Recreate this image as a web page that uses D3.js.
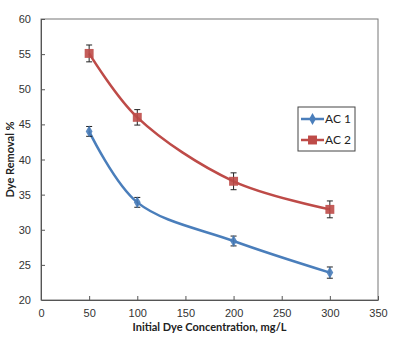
<!DOCTYPE html>
<html lang="en">
  <head>
    <meta charset="UTF-8" />
    <title>Dye Removal vs Initial Dye Concentration</title>
    <script src="https://d3js.org/d3.v7.min.js"></script>
    <style>
      html,
      body {
        margin: 0;
        padding: 0;
        background-color: #ffffff;
        font-family: Lato, "Open Sans", sans-serif;
      }
      .tick text {
        font-size: 11px;
        fill: #333;
      }
      .axis-title {
        font-size: 11px;
        font-weight: bold;
        fill: #222;
      }
    </style>
  </head>
  <body>
    <svg id="chart"></svg>
    <script>
      // Initial dye concentration (mg/L)
      const concentrations = [50, 100, 200, 300];
      // Removal percentages and error bar half-widths
      const ac1Values = [44, 33.9, 28.4, 23.9];
      const ac1Errors = [0.7, 0.7, 0.7, 0.8];
      const ac2Values = [55.1, 46, 36.9, 32.9];
      const ac2Errors = [1.2, 1.1, 1.2, 1.2];
      const seriesNames = ["AC 1", "AC 2"];
      const xTicks = [0, 50, 100, 150, 200, 250, 300, 350];
      const yTicks = [20, 25, 30, 35, 40, 45, 50, 55, 60];

      const width = 400;
      const height = 340;
      const margin = { top: 19, right: 22, bottom: 40, left: 41 };
      const innerW = width - margin.left - margin.right;
      const innerH = height - margin.top - margin.bottom;

      const colors = { "AC 1": "#4a7ebb", "AC 2": "#be4b48" };

      const svg = d3
        .select("#chart")
        .attr("width", width)
        .attr("height", height);

      const g = svg
        .append("g")
        .attr("transform", `translate(${margin.left},${margin.top})`);

      const x = d3.scaleLinear().domain([0, 350]).range([0, innerW]);
      const y = d3.scaleLinear().domain([20, 60]).range([innerH, 0]);

      // plot area frame
      g.append("rect")
        .attr("width", innerW)
        .attr("height", innerH)
        .attr("fill", "none")
        .attr("stroke", "#777")
        .attr("stroke-width", 1);

      // axes with inward ticks
      const xAxis = g
        .append("g")
        .attr("transform", `translate(0,${innerH})`)
        .call(
          d3.axisBottom(x).tickValues(xTicks).tickSizeInner(-4).tickSizeOuter(0).tickPadding(9)
        );
      const yAxis = g
        .append("g")
        .call(
          d3.axisLeft(y).tickValues(yTicks).tickSizeInner(-4).tickSizeOuter(0).tickPadding(10)
        );
      [xAxis, yAxis].forEach((a) => {
        a.select(".domain").attr("stroke", "#555");
        a.selectAll(".tick line").attr("stroke", "#555");
        a.selectAll(".tick text").attr("font-family", null);
      });
      xAxis.select(".tick:first-of-type line").remove();
      yAxis.select(".tick:first-of-type line").remove();

      // axis titles
      svg
        .append("text")
        .attr("class", "axis-title")
        .attr("x", margin.left + innerW / 2)
        .attr("y", 331)
        .attr("text-anchor", "middle")
        .text("Initial Dye Concentration, mg/L");
      svg
        .append("text")
        .attr("class", "axis-title")
        .attr("transform", `translate(14,${margin.top + innerH / 2}) rotate(-90)`)
        .attr("text-anchor", "middle")
        .text("Dye Removal %");

      const series = [
        { name: "AC 1", values: ac1Values, errors: ac1Errors, symbol: d3.symbolDiamond, size: 40 },
        { name: "AC 2", values: ac2Values, errors: ac2Errors, symbol: d3.symbolSquare, size: 80 },
      ];

      const line = d3
        .line()
        .x((d) => x(d[0]))
        .y((d) => y(d[1]))
        .curve(d3.curveCatmullRom.alpha(0.5));

      series.forEach((s) => {
        const pts = concentrations.map((c, i) => [c, s.values[i], s.errors[i]]);
        g.append("path")
          .datum(pts)
          .attr("fill", "none")
          .attr("stroke", colors[s.name])
          .attr("stroke-width", 2.5)
          .attr("d", line);

        // error bars
        const eb = g
          .append("g")
          .selectAll("g")
          .data(pts)
          .enter()
          .append("g")
          .attr("stroke", "#222")
          .attr("stroke-width", 1);
        eb.append("line")
          .attr("x1", (d) => x(d[0]))
          .attr("x2", (d) => x(d[0]))
          .attr("y1", (d) => y(d[1] - d[2]))
          .attr("y2", (d) => y(d[1] + d[2]));
        [-1, 1].forEach((sgn) => {
          eb.append("line")
            .attr("x1", (d) => x(d[0]) - 3)
            .attr("x2", (d) => x(d[0]) + 3)
            .attr("y1", (d) => y(d[1] + sgn * d[2]))
            .attr("y2", (d) => y(d[1] + sgn * d[2]));
        });

        g.append("g")
          .selectAll("path")
          .data(pts)
          .enter()
          .append("path")
          .attr("transform", (d) => `translate(${x(d[0])},${y(d[1])})`)
          .attr("d", d3.symbol().type(s.symbol).size(s.size))
          .attr("fill", colors[s.name])
          .attr("opacity", 0.9);
      });

      // legend
      const legend = svg.append("g").attr("transform", "translate(298,107)");
      legend
        .append("rect")
        .attr("width", 57)
        .attr("height", 44)
        .attr("fill", "#fff")
        .attr("stroke", "#444");
      series.forEach((s, i) => {
        const ly = 12 + i * 21;
        legend
          .append("line")
          .attr("x1", 3)
          .attr("x2", 26)
          .attr("y1", ly)
          .attr("y2", ly)
          .attr("stroke", colors[s.name])
          .attr("stroke-width", 2.5);
        legend
          .append("path")
          .attr("transform", `translate(14.5,${ly})`)
          .attr("d", d3.symbol().type(s.symbol).size(s.size))
          .attr("fill", colors[s.name]);
        legend
          .append("text")
          .attr("x", 27)
          .attr("y", ly + 4)
          .attr("font-size", 12)
          .attr("fill", "#222")
          .text(s.name);
      });
    </script>
  </body>
</html>
